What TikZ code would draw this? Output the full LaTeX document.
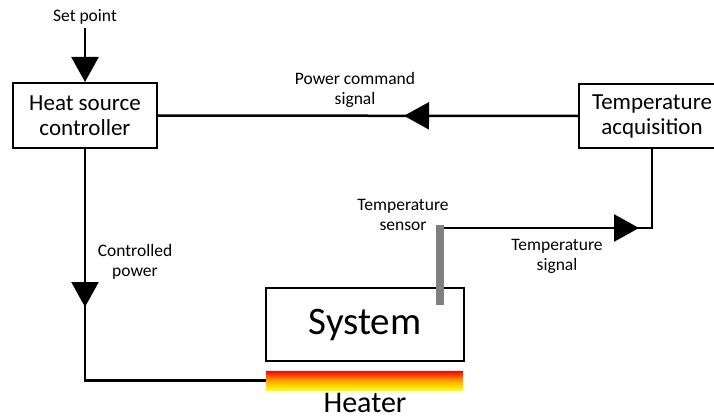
\documentclass[tikz,border=0pt]{standalone}
\usepackage{fontspec}
\setmainfont{Carlito}
\usetikzlibrary{arrows.meta,decorations.markings}
\tikzset{
  small/.style={font=\fontsize{17.5}{20}\selectfont, align=center, inner sep=0pt},
  boxtxt/.style={draw, line width=2pt, font=\fontsize{23}{25}\selectfont, align=center, inner sep=0pt},
  conn/.style={line width=2.5pt},
  tipat/.style={postaction={decorate}, decoration={markings,
      mark=at position #1 with {\arrow{Triangle[length=25pt,width=27pt]}}}}
}
\begin{document}
\begin{tikzpicture}[x=1pt,y=-1pt]
\useasboundingbox (0,0) rectangle (714,417);
% boxes
\node[boxtxt, minimum width=144pt, minimum height=65pt] (ctrl) at (85,115.5) {Heat source\\controller};
\node[boxtxt, minimum width=146pt, minimum height=64pt] (acq) at (652,116) {Temperature\\acquisition};
\node[draw, line width=2pt, minimum width=198pt, minimum height=73pt, inner sep=0pt,
      font=\fontsize{39}{40}\selectfont] (sys) at (365,324.5) {System};
% sensor
\node[fill=black!50, minimum width=8pt, minimum height=80pt, inner sep=0pt] (sensor) at (440,265) {};
\coordinate (sens) at (444,228);
% heater
\node[shade, top color=red, bottom color=yellow, middle color=orange!70!yellow,
      minimum width=197pt, minimum height=19pt, inner sep=0pt] (heater) at (364.5,380.5) {};
% labels
\node[small] (sp) at (85,17) {Set point};
\coordinate (spstart) at (85,28);
\node[small] (pcs) at (355,90) {Power command\\signal};
\node[small] (cp) at (135,262) {Controlled\\power};
\node[small] (ts) at (403,215) {Temperature\\sensor};
\node[small] (tsig) at (557,256) {Temperature\\signal};
\node[font=\fontsize{30}{32}\selectfont, inner sep=0pt] (hl) at (365,403) {Heater};
% connectors
\draw[conn, -{Triangle[length=25pt,width=27pt]}] (spstart) -- (ctrl.north);
\draw[conn, tipat=174pt] (acq.west) -- (ctrl.east);
\draw[conn, tipat=158pt] (ctrl.south) |- (heater.west);
\draw[conn, tipat=195pt] (sens) -| (acq.south);
\end{tikzpicture}
\end{document}
